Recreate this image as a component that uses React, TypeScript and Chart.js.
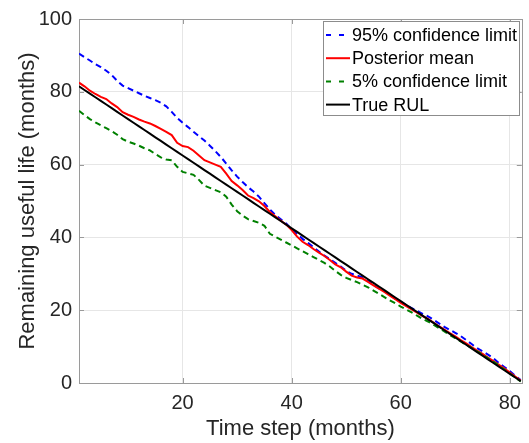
import { useEffect, useRef } from "react";
import { Chart, registerables } from "chart.js";

Chart.register(...registerables);

const timeSteps = [
  1, 2, 3, 4, 5, 6, 7, 8, 9, 10, 11, 12, 13, 14, 15, 16, 17, 18, 19, 20,
  21, 22, 23, 24, 25, 26, 27, 28, 29, 30, 31, 32, 33, 34, 35, 36, 37, 38, 39, 40,
  41, 42, 43, 44, 45, 46, 47, 48, 49, 50, 51, 52, 53, 54, 55, 56, 57, 58, 59, 60,
  61, 62, 63, 64, 65, 66, 67, 68, 69, 70, 71, 72, 73, 74, 75, 76, 77, 78, 79, 80,
  81, 82,
];

const upper95 = [
  90.5, 89.5, 88.6, 87.6, 86.8, 85.8, 84.6, 83.0, 81.7, 81.0,
  80.3, 79.6, 78.9, 78.3, 77.7, 77.0, 76.0, 74.5, 72.8, 71.5,
  70.3, 69.0, 67.8, 66.6, 65.2, 63.7, 62.1, 60.3, 58.4, 56.7,
  55.2, 53.8, 52.6, 51.2, 49.4, 47.7, 46.2, 45.0, 43.8, 42.2,
  40.9, 39.6, 38.5, 37.3, 36.1, 35.0, 34.0, 33.0, 32.0, 30.8,
  30.0, 29.5, 29.0, 28.0, 27.0, 26.0, 25.2, 24.2, 23.2, 22.3,
  21.4, 20.6, 19.8, 19.0, 18.3, 17.4, 16.4, 15.4, 14.6, 13.8,
  12.9, 11.8, 10.7, 9.6, 8.7, 7.8, 6.8, 5.5, 4.4, 3.3,
  2.0, 0.8,
];

const posteriorMean = [
  82.5, 81.5, 80.3, 79.4, 78.6, 78.0, 76.8, 75.8, 74.4, 73.7,
  73.1, 72.4, 71.8, 71.3, 70.6, 69.8, 69.0, 68.1, 66.0, 65.1,
  64.8, 63.8, 62.5, 61.2, 60.6, 60.0, 59.4, 57.5, 55.5, 54.3,
  53.0, 51.5, 50.8, 49.9, 48.6, 47.0, 45.8, 44.6, 43.5, 42.0,
  40.2, 38.8, 37.9, 36.8, 35.8, 34.9, 33.8, 32.6, 31.8, 30.6,
  29.5, 29.0, 28.7, 27.8, 26.8, 25.9, 25.0, 24.0, 23.0, 22.0,
  21.1, 20.2, 19.3, 18.4, 17.6, 16.6, 15.6, 14.7, 13.7, 12.8,
  11.8, 10.9, 9.9, 8.9, 8.0, 7.0, 6.0, 5.0, 4.0, 2.9,
  1.8, 0.7,
];

const lower5 = [
  74.8, 73.6, 72.5, 71.6, 70.8, 70.0, 69.2, 68.2, 67.0, 66.3,
  65.8, 65.2, 64.5, 63.9, 62.9, 62.0, 61.4, 61.2, 59.4, 58.0,
  57.6, 57.2, 55.8, 54.2, 53.6, 53.0, 52.4, 51.2, 49.0, 47.2,
  46.0, 45.0, 44.5, 44.0, 43.2, 41.0, 40.2, 39.4, 38.6, 37.8,
  37.0, 36.2, 35.4, 34.6, 33.8, 33.0, 32.0, 30.8, 29.7, 28.9,
  28.3, 27.7, 27.0, 26.3, 25.4, 24.5, 23.6, 22.7, 21.9, 21.0,
  20.2, 19.4, 18.5, 17.6, 16.9, 16.0, 15.1, 14.2, 13.2, 12.3,
  11.4, 10.5, 9.6, 8.7, 7.8, 6.8, 5.8, 4.8, 3.7, 2.6,
  1.5, 0.4,
];

const trueRUL = [
  81.5, 80.5, 79.5, 78.5, 77.5, 76.5, 75.5, 74.5, 73.5, 72.5,
  71.5, 70.5, 69.5, 68.5, 67.5, 66.5, 65.5, 64.5, 63.5, 62.5,
  61.5, 60.5, 59.5, 58.5, 57.5, 56.5, 55.5, 54.5, 53.5, 52.5,
  51.5, 50.5, 49.5, 48.5, 47.5, 46.5, 45.5, 44.5, 43.5, 42.5,
  41.5, 40.5, 39.5, 38.5, 37.5, 36.5, 35.5, 34.5, 33.5, 32.5,
  31.5, 30.5, 29.5, 28.5, 27.5, 26.5, 25.5, 24.5, 23.5, 22.5,
  21.5, 20.5, 19.5, 18.5, 17.5, 16.5, 15.5, 14.5, 13.5, 12.5,
  11.5, 10.5, 9.5, 8.5, 7.5, 6.5, 5.5, 4.5, 3.5, 2.5,
  1.5, 0.5,
];

const xTicks = [20, 40, 60, 80];
const yTicks = [0, 20, 40, 60, 80, 100];
const seriesLabels = ["95% confidence limit", "Posterior mean", "5% confidence limit", "True RUL"];
const xTitle = "Time step (months)";
const yTitle = "Remaining useful life (months)";

const FONT = "'Liberation Sans', Arial, Helvetica, sans-serif";
const TEXT = "#262626";
const BOX = "#9a9a9a";

const toPoints = (ys: number[]) => ys.map((y, i) => ({ x: timeSteps[i], y }));

const boxPlugin = {
  id: "matlabBox",
  beforeDatasetsDraw(chart: any) {
    const { ctx, chartArea, scales } = chart;
    const { left, right, top, bottom } = chartArea;
    ctx.save();
    ctx.strokeStyle = BOX;
    ctx.lineWidth = 1;
    ctx.beginPath();
    const tl = 5;
    xTicks.forEach((v) => {
      const px = Math.round(scales.x.getPixelForValue(v)) + 0.5;
      ctx.moveTo(px, bottom);
      ctx.lineTo(px, bottom - tl);
      ctx.moveTo(px, top);
      ctx.lineTo(px, top + tl);
    });
    yTicks.forEach((v) => {
      const py = Math.round(scales.y.getPixelForValue(v)) + 0.5;
      ctx.moveTo(left, py);
      ctx.lineTo(left + tl, py);
      ctx.moveTo(right, py);
      ctx.lineTo(right - tl, py);
    });
    ctx.stroke();
    ctx.strokeRect(Math.round(left) + 0.5, Math.round(top) + 0.5, Math.round(right - left), Math.round(bottom - top));
    ctx.restore();
  },
};

const legendPlugin = {
  id: "matlabLegend",
  afterDraw(chart: any) {
    const { ctx } = chart;
    const x0 = 323;
    const y0 = 21;
    const w = 196;
    const h = 94;
    ctx.save();
    ctx.fillStyle = "#ffffff";
    ctx.fillRect(x0, y0, w, h);
    ctx.strokeStyle = "#8c8c8c";
    ctx.lineWidth = 1;
    ctx.strokeRect(x0 + 0.5, y0 + 0.5, w, h);
    ctx.font = `18px ${FONT}`;
    ctx.textBaseline = "middle";
    ctx.textAlign = "left";
    chart.data.datasets.forEach((ds: any, i: number) => {
      const cy = y0 + 14 + i * 23.2;
      ctx.strokeStyle = ds.borderColor;
      ctx.lineWidth = 2;
      ctx.setLineDash(ds.borderDash && ds.borderDash.length ? [5, 8] : []);
      ctx.beginPath();
      ctx.moveTo(x0 + 3, cy);
      ctx.lineTo(x0 + 27, cy);
      ctx.stroke();
      ctx.setLineDash([]);
      ctx.fillStyle = "#000000";
      ctx.fillText(ds.label, x0 + 29, cy + 1);
    });
    ctx.restore();
  },
};

export default function App() {
  const canvasRef = useRef<HTMLCanvasElement | null>(null);

  useEffect(() => {
    if (!canvasRef.current) return;
    const chart = new Chart(canvasRef.current, {
      type: "line",
      data: {
        datasets: [
          {
            label: seriesLabels[0],
            data: toPoints(upper95),
            borderColor: "#0000ff",
            borderWidth: 2,
            borderDash: [6, 4],
            pointRadius: 0,
            tension: 0,
            fill: false,
            order: 3,
          },
          {
            label: seriesLabels[1],
            data: toPoints(posteriorMean),
            borderColor: "#ff0000",
            borderWidth: 2,
            pointRadius: 0,
            tension: 0,
            fill: false,
            order: 2,
          },
          {
            label: seriesLabels[2],
            data: toPoints(lower5),
            borderColor: "#008000",
            borderWidth: 2,
            borderDash: [6, 4],
            pointRadius: 0,
            tension: 0,
            fill: false,
            order: 1,
          },
          {
            label: seriesLabels[3],
            data: toPoints(trueRUL),
            borderColor: "#000000",
            borderWidth: 2,
            pointRadius: 0,
            tension: 0,
            fill: false,
            order: 0,
          },
        ],
      },
      options: {
        responsive: false,
        animation: false,
        layout: { padding: { top: 14, right: 3, left: 0, bottom: 0 } },
        plugins: {
          legend: { display: false },
          tooltip: { enabled: false },
        },
        scales: {
          x: {
            type: "linear",
            min: 1,
            max: 82.2,
            afterBuildTicks: (scale: any) => {
              scale.ticks = xTicks.map((v) => ({ value: v }));
            },
            afterFit: (scale: any) => {
              scale.height = 60;
            },
            grid: { color: "#e6e6e6", drawTicks: false, lineWidth: 1 },
            border: { display: false },
            ticks: {
              color: TEXT,
              font: { family: FONT, size: 20 },
              padding: 8,
              maxRotation: 0,
            },
            title: {
              display: true,
              text: xTitle,
              color: TEXT,
              font: { family: FONT, size: 22 },
              padding: { top: 0, bottom: 1 },
            },
          },
          y: {
            type: "linear",
            min: 0,
            max: 100,
            afterBuildTicks: (scale: any) => {
              scale.ticks = yTicks.map((v) => ({ value: v }));
            },
            afterFit: (scale: any) => {
              scale.width = 79;
            },
            grid: { color: "#e6e6e6", drawTicks: false, lineWidth: 1 },
            border: { display: false },
            ticks: {
              color: TEXT,
              font: { family: FONT, size: 20 },
              padding: 7,
            },
            title: {
              display: true,
              text: yTitle,
              color: TEXT,
              font: { family: FONT, size: 22 },
              padding: { top: 15, bottom: 0 },
            },
          },
        },
      },
      plugins: [boxPlugin, legendPlugin],
    });
    return () => chart.destroy();
  }, []);

  return (
    <div style={{ position: "fixed", left: 0, top: 0, width: 529, height: 443, background: "#ffffff" }}>
      <canvas ref={canvasRef} width={529} height={443} style={{ display: "block" }} />
    </div>
  );
}
